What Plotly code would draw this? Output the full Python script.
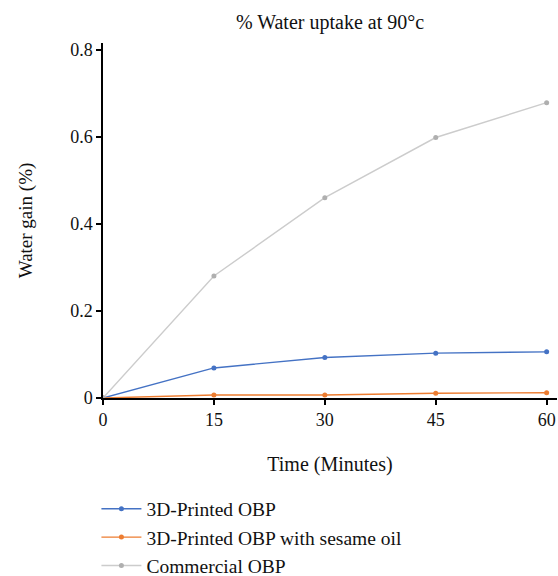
import plotly.graph_objects as go

time_min = [0, 15, 30, 45, 60]
printed_obp = [0, 0.069, 0.093, 0.103, 0.106]
printed_obp_sesame = [0, 0.007, 0.007, 0.011, 0.012]
commercial_obp = [0, 0.28, 0.46, 0.598, 0.678]

series = [
    ("3D-Printed OBP", printed_obp, "#4472C4", "#4472C4"),
    ("3D-Printed OBP with sesame oil", printed_obp_sesame, "#ED7D31", "#ED7D31"),
    ("Commercial OBP", commercial_obp, "#CCCCCC", "#AFAFAF"),
]

FONT = "Liberation Serif"
TXT = "#111111"
fig = go.Figure()
for name, vals, lc, mc in series:
    fig.add_trace(go.Scatter(
        x=time_min, y=vals, name=name, mode="lines+markers",
        line=dict(color=lc, width=1.4),
        marker=dict(color=mc, size=5),
    ))

fig.update_layout(
    width=558, height=576,
    margin=dict(l=103, r=1, t=43, b=178, autoexpand=False),
    paper_bgcolor="white", plot_bgcolor="white",
    font=dict(family=FONT, color=TXT, size=16),
    title=dict(text="% Water uptake at 90°c", x=0.5, xanchor="center",
               xref="paper", y=0.962, yanchor="middle",
               font=dict(family=FONT, size=20, color=TXT)),
    showlegend=True,
    legend=dict(orientation="v", x=-0.0145, xanchor="left", y=-0.258, yanchor="top",
                font=dict(family=FONT, size=19.5, color=TXT),
                tracegroupgap=0, itemwidth=40, bgcolor="rgba(0,0,0,0)"),
)
fig.update_xaxes(
    range=[0, 61.4], tickvals=[0, 15, 30, 45, 60],
    showline=True, linecolor="black", linewidth=1.5,
    ticks="outside", ticklen=5, tickcolor="black", tickwidth=1.5,
    showgrid=False, zeroline=False,
    tickfont=dict(family=FONT, size=18, color=TXT),
    title=dict(text="Time (Minutes)", font=dict(family=FONT, size=20, color=TXT), standoff=28),
)
fig.update_yaxes(
    range=[0, 0.815], tickvals=[0, 0.2, 0.4, 0.6, 0.8], ticktext=["0", "0.2", "0.4", "0.6", "0.8"],
    showline=True, linecolor="black", linewidth=1.5,
    ticks="outside", ticklen=5, tickcolor="black", tickwidth=1.5,
    showgrid=False, zeroline=False,
    tickfont=dict(family=FONT, size=18, color=TXT),
    title=dict(text="Water gain (%)", font=dict(family=FONT, size=19, color=TXT), standoff=33),
)
fig.write_html("out.html")
